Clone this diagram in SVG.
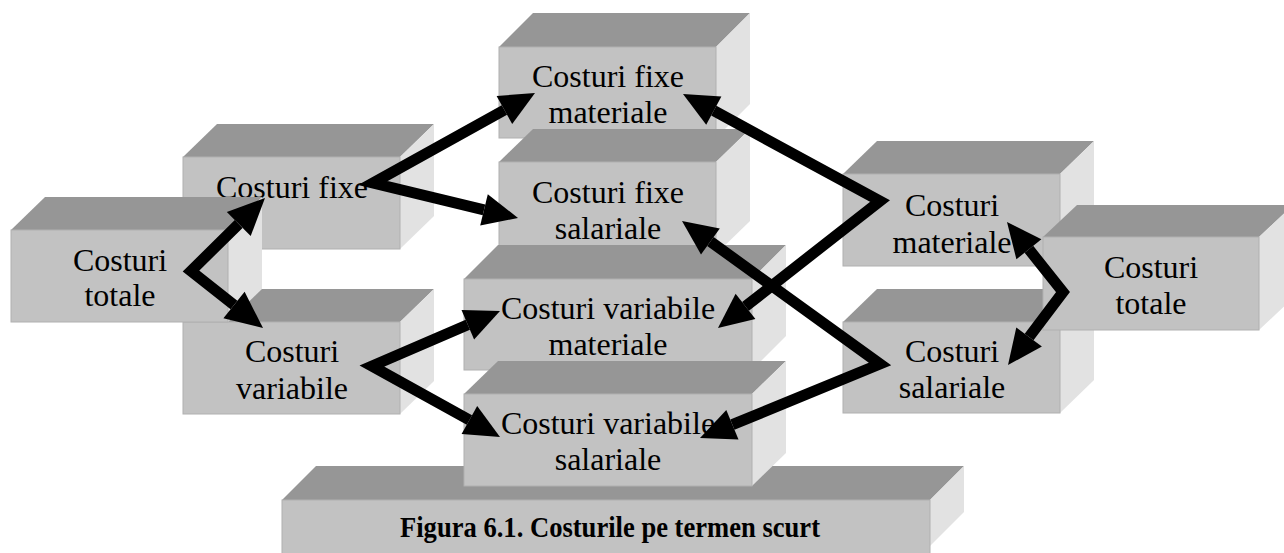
<svg xmlns="http://www.w3.org/2000/svg" width="1284" height="553" viewBox="0 0 1284 553">
<style>
.front{fill:#c2c2c2;stroke:#b0b0b0;stroke-width:1}
.top{fill:#969696}
.side{fill:#e2e2e2}
.t{font-family:"Liberation Serif","Times New Roman",serif;font-size:32px;text-anchor:middle;fill:#000}
.cap{font-family:"Liberation Serif","Times New Roman",serif;font-size:29px;font-weight:bold;text-anchor:middle;fill:#000}
.shaft{fill:none;stroke:#000;stroke-width:11;stroke-linejoin:miter;stroke-miterlimit:10}
.head{fill:#000}
</style>
<rect width="1284" height="553" fill="#ffffff"/>
<g id="node-figura">
<polygon class="top" points="282,500 316,466 964,466 930,500"/>
<polygon class="side" points="930,500 964,466 964,512 930,546"/>
<rect class="front" x="282" y="500" width="648" height="60"/>
<text class="cap" x="610" y="537" textLength="420" lengthAdjust="spacingAndGlyphs">Figura 6.1. Costurile pe termen scurt</text>
</g>
<g id="node-costuri-fixe">
<polygon class="top" points="183,157 217,124 434,124 400,157"/>
<polygon class="side" points="400,157 434,124 434,216 400,249"/>
<rect class="front" x="183" y="157" width="217" height="92"/>
<text class="t" x="292" y="198">Costuri fixe</text>
</g>
<g id="node-costuri-variabile">
<polygon class="top" points="183,322 217,289 434,289 400,322"/>
<polygon class="side" points="400,322 434,289 434,381 400,414"/>
<rect class="front" x="183" y="322" width="217" height="92"/>
<text class="t" x="292" y="362">Costuri</text>
<text class="t" x="292" y="399">variabile</text>
</g>
<g id="node-costuri-totale-left">
<polygon class="top" points="11,230 45,197 262,197 228,230"/>
<polygon class="side" points="228,230 262,197 262,289 228,322"/>
<rect class="front" x="11" y="230" width="217" height="92"/>
<text class="t" x="120" y="271">Costuri</text>
<text class="t" x="120" y="306">totale</text>
</g>
<g id="node-fixe-materiale">
<polygon class="top" points="499,47 533,13 750,13 716,47"/>
<polygon class="side" points="716,47 750,13 750,104 716,138"/>
<rect class="front" x="499" y="47" width="217" height="91"/>
<text class="t" x="608" y="87">Costuri fixe</text>
<text class="t" x="608" y="123">materiale</text>
</g>
<g id="node-fixe-salariale">
<polygon class="top" points="499,162 533,129 750,129 716,162"/>
<polygon class="side" points="716,162 750,129 750,221 716,254"/>
<rect class="front" x="499" y="162" width="217" height="92"/>
<text class="t" x="608" y="203">Costuri fixe</text>
<text class="t" x="608" y="239">salariale</text>
</g>
<g id="node-variabile-materiale">
<polygon class="top" points="464,279 498,245 786,245 752,279"/>
<polygon class="side" points="752,279 786,245 786,336 752,370"/>
<rect class="front" x="464" y="279" width="288" height="91"/>
<text class="t" x="608" y="319">Costuri variabile</text>
<text class="t" x="608" y="355">materiale</text>
</g>
<g id="node-variabile-salariale">
<polygon class="top" points="464,394 498,361 786,361 752,394"/>
<polygon class="side" points="752,394 786,361 786,453 752,486"/>
<rect class="front" x="464" y="394" width="288" height="92"/>
<text class="t" x="608" y="434">Costuri variabile</text>
<text class="t" x="608" y="470">salariale</text>
</g>
<g id="node-costuri-materiale">
<polygon class="top" points="843,174 877,141 1094,141 1060,174"/>
<polygon class="side" points="1060,174 1094,141 1094,233 1060,266"/>
<rect class="front" x="843" y="174" width="217" height="92"/>
<text class="t" x="952" y="216">Costuri</text>
<text class="t" x="952" y="253">materiale</text>
</g>
<g id="node-costuri-salariale">
<polygon class="top" points="843,322 877,289 1094,289 1060,322"/>
<polygon class="side" points="1060,322 1094,289 1094,380 1060,413"/>
<rect class="front" x="843" y="322" width="217" height="91"/>
<text class="t" x="952" y="362">Costuri</text>
<text class="t" x="952" y="398">salariale</text>
</g>
<g id="node-costuri-totale-right">
<polygon class="top" points="1043,237 1077,205 1293,205 1259,237"/>
<polygon class="side" points="1259,237 1293,205 1293,298 1259,330"/>
<rect class="front" x="1043" y="237" width="216" height="93"/>
<text class="t" x="1151" y="278">Costuri</text>
<text class="t" x="1151" y="314">totale</text>
</g>
<g id="connectors">
<polyline class="shaft" points="238.7,224 191,271 234,305"/>
<polygon class="head" points="265,198 250.7,236.1 226.8,211.9"/>
<polygon class="head" points="263,328 223.4,318.3 244.6,291.7"/>
<polyline class="shaft" points="504.4,110 373,183 484,209.8"/>
<polygon class="head" points="535,93 512.2,124 496.6,96"/>
<polygon class="head" points="518,218 480.2,225.4 487.8,194.2"/>
<polyline class="shaft" points="467.8,324.8 372,366 469.4,420"/>
<polygon class="head" points="500,311 474.1,339.5 461.5,310.1"/>
<polygon class="head" points="500,437 461.6,434 477.2,406"/>
<polyline class="shaft" points="713.8,110.7 880,201 745.5,306.4"/>
<polygon class="head" points="683,94 721.4,96.6 706.2,124.8"/>
<polygon class="head" points="718,328 755.4,319 735.6,293.8"/>
<polyline class="shaft" points="710.4,241.5 880,364 732.4,424.7"/>
<polygon class="head" points="682,221 719.8,228.5 701,254.5"/>
<polygon class="head" points="700,438 738.5,439.5 726.3,409.9"/>
<polyline class="shaft" points="1028.9,249.3 1063,292 1029.1,337"/>
<polygon class="head" points="1007,222 1041.4,239.3 1016.4,259.3"/>
<polygon class="head" points="1008,365 1041.9,346.6 1016.3,327.4"/>
</g>
</svg>
